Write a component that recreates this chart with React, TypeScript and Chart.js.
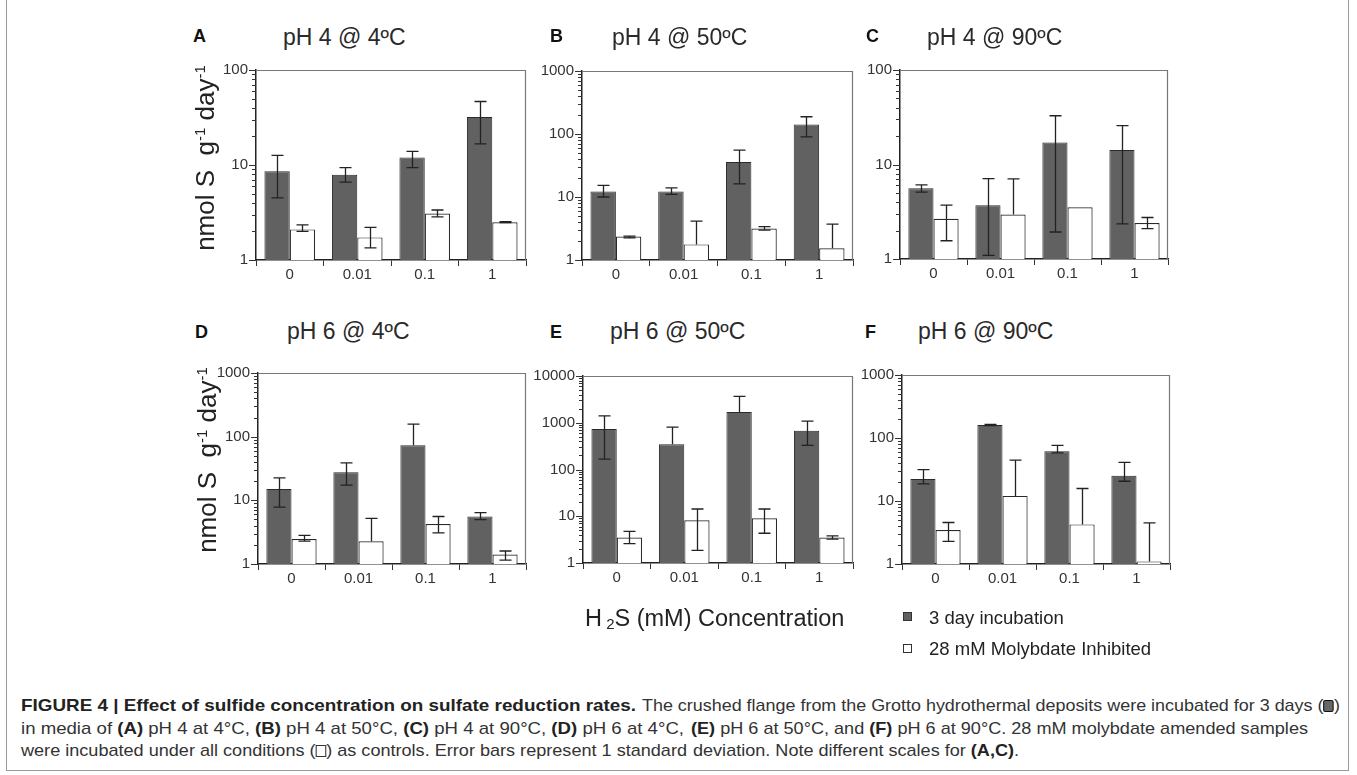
import React, { useEffect, useLayoutEffect, useRef } from 'react';
import { Chart, registerables } from 'chart.js';

Chart.register(...registerables);

// ---------- data ----------
const categories = ['0', '0.01', '0.1', '1'];
const seriesLabels = ['3 day incubation', '28 mM Molybdate Inhibited'];

// A: pH 4 @ 4ºC
const incubationA = [8.6, 7.9, 12.0, 32.0];
const incubationAHigh = [12.6, 9.4, 13.9, 46.6];
const incubationALow = [4.5, 6.6, 9.4, 16.7];
const molybdateA = [2.1, 1.73, 3.08, 2.5];
const molybdateAHigh = [2.34, 2.2, 3.36, 2.53];
const molybdateALow = [2.0, 1.34, 2.85, 2.47];

// B: pH 4 @ 50ºC
const incubationB = [12.2, 12.2, 35.8, 142];
const incubationBHigh = [15.3, 14.0, 55.6, 188];
const incubationBLow = [10.0, 11.0, 16.2, 90];
const molybdateB = [2.35, 1.77, 3.16, 1.53];
const molybdateBHigh = [2.4, 4.15, 3.39, 3.7];
const molybdateBLow = [2.25, null, 2.97, null];

// C: pH 4 @ 90ºC
const incubationC = [5.6, 3.7, 17.1, 14.2];
const incubationCHigh = [6.1, 7.1, 32.8, 25.8];
const incubationCLow = [5.1, 1.09, 1.93, 2.35];
const molybdateC = [2.67, 2.96, 3.52, 2.4];
const molybdateCHigh = [3.72, 7.06, null, 2.75];
const molybdateCLow = [1.56, null, null, 2.1];

// D: pH 6 @ 4ºC
const incubationD = [15.0, 27.6, 73.3, 5.57];
const incubationDHigh = [22.6, 38.8, 157.5, 6.42];
const incubationDLow = [7.84, 17.3, null, 4.96];
const molybdateD = [2.47, 2.28, 4.25, 1.41];
const molybdateDHigh = [2.82, 5.19, 5.57, 1.6];
const molybdateDLow = [2.28, null, 3.09, 1.15];

// E: pH 6 @ 50ºC
const incubationE = [733, 347, 1706, 671];
const incubationEHigh = [1408, 807, 3664, 1084];
const incubationELow = [166, null, null, 327];
const molybdateE = [3.52, 8.19, 9.02, 3.5];
const molybdateEHigh = [4.77, 14.3, 14.3, 3.8];
const molybdateELow = [2.6, 1.86, 4.33, 3.25];

// F: pH 6 @ 90ºC
const incubationF = [22.3, 161, 61.8, 25.2];
const incubationFHigh = [31.5, 165, 76.5, 40.9];
const incubationFLow = [18.7, 158, 58.2, 20.6];
const molybdateF = [3.47, 12.05, 4.25, 1.1];
const molybdateFHigh = [4.56, 44.4, 15.8, 4.5];
const molybdateFLow = [2.29, null, null, null];

const yMaxes = [100, 1000, 100, 1000, 10000, 1000];
const panelLetters = ['A', 'B', 'C', 'D', 'E', 'F'];
const panelTitles = ['pH 4 @ 4ºC', 'pH 4 @ 50ºC', 'pH 4 @ 90ºC', 'pH 6 @ 4ºC', 'pH 6 @ 50ºC', 'pH 6 @ 90ºC'];

// ---------- layout / style ----------
const FONT = '"Liberation Sans", Arial, Helvetica, sans-serif';
const YW = 52;
const PT = 12;
const PR = 6;
const XH = 32;

const plotRects = [
  { x: 256, y: 65, w: 270, h: 195 },
  { x: 582, y: 66, w: 271, h: 194 },
  { x: 900, y: 65, w: 268, h: 194 },
  { x: 258, y: 368, w: 268, h: 196 },
  { x: 583, y: 371, w: 270, h: 192 },
  { x: 902, y: 370, w: 268, h: 194 },
];
const letterPos = [
  { x: 193, y: 27 }, { x: 550, y: 27 }, { x: 866, y: 27 },
  { x: 195, y: 323 }, { x: 550, y: 323 }, { x: 865, y: 323 },
];
const titlePos = [
  { x: 283, y: 26 }, { x: 612, y: 26 }, { x: 927, y: 26 },
  { x: 287, y: 320 }, { x: 610, y: 320 }, { x: 918, y: 320 },
];

const panelData = [
  [incubationA, incubationAHigh, incubationALow, molybdateA, molybdateAHigh, molybdateALow],
  [incubationB, incubationBHigh, incubationBLow, molybdateB, molybdateBHigh, molybdateBLow],
  [incubationC, incubationCHigh, incubationCLow, molybdateC, molybdateCHigh, molybdateCLow],
  [incubationD, incubationDHigh, incubationDLow, molybdateD, molybdateDHigh, molybdateDLow],
  [incubationE, incubationEHigh, incubationELow, molybdateE, molybdateEHigh, molybdateELow],
  [incubationF, incubationFHigh, incubationFLow, molybdateF, molybdateFHigh, molybdateFLow],
];

function isPow10(v: number) {
  const l = Math.log10(v);
  return Math.abs(l - Math.round(l)) < 1e-9;
}
function isIntMantissa(v: number) {
  const e = Math.floor(Math.log10(v) + 1e-9);
  const m = v / Math.pow(10, e);
  return Math.abs(m - Math.round(m)) < 1e-6;
}

const errorBarPlugin = {
  id: 'errorBars',
  afterDatasetsDraw(chart: any) {
    const ctx = chart.ctx;
    const ys = chart.scales.y;
    chart.data.datasets.forEach((ds: any, i: number) => {
      const meta = chart.getDatasetMeta(i);
      meta.data.forEach((bar: any, j: number) => {
        const hi = ds.errHigh[j];
        const lo = ds.errLow[j];
        if (hi == null) return;
        const x = Math.round(bar.x) + 0.5;
        const yH = ys.getPixelForValue(hi);
        const yL = lo != null ? ys.getPixelForValue(lo) : bar.y;
        ctx.save();
        ctx.strokeStyle = '#222';
        ctx.lineWidth = 1.3;
        ctx.beginPath();
        ctx.moveTo(x, yH);
        ctx.lineTo(x, yL);
        ctx.moveTo(x - 6, yH);
        ctx.lineTo(x + 6, yH);
        if (lo != null) {
          ctx.moveTo(x - 6, yL);
          ctx.lineTo(x + 6, yL);
        }
        ctx.stroke();
        ctx.restore();
      });
    });
  },
};

const framePlugin = {
  id: 'frame',
  afterDraw(chart: any) {
    const { ctx, chartArea } = chart;
    const ys = chart.scales.y;
    ctx.save();
    ctx.strokeStyle = '#777';
    ctx.lineWidth = 1.2;
    ctx.beginPath();
    ctx.moveTo(chartArea.left, chartArea.top + 0.5);
    ctx.lineTo(chartArea.right - 0.5, chartArea.top + 0.5);
    ctx.lineTo(chartArea.right - 0.5, chartArea.bottom);
    ctx.stroke();
    ctx.strokeStyle = '#333';
    ctx.lineWidth = 1;
    ctx.beginPath();
    ys.ticks.forEach((t: any) => {
      const y = Math.round(ys.getPixelForValue(t.value)) + 0.5;
      const len = isPow10(t.value) ? 7 : 4;
      ctx.moveTo(chartArea.left - len, y);
      ctx.lineTo(chartArea.left, y);
    });
    ctx.stroke();
    ctx.restore();
  },
};

function Panel({ index }: { index: number }) {
  const ref = useRef<HTMLCanvasElement>(null);
  const r = plotRects[index];
  const W = r.w + YW + PR;
  const H = r.h + PT + XH;
  useEffect(() => {
    const [inc, incHi, incLo, mol, molHi, molLo] = panelData[index];
    const chart = new Chart(ref.current as HTMLCanvasElement, {
      type: 'bar',
      data: {
        labels: categories,
        datasets: [
          {
            label: seriesLabels[0],
            data: inc,
            backgroundColor: '#616161',
            borderColor: '#2a2a2a',
            borderWidth: 1,
            categoryPercentage: 0.75,
            barPercentage: 1,
            errHigh: incHi,
            errLow: incLo,
          } as any,
          {
            label: seriesLabels[1],
            data: mol,
            backgroundColor: '#ffffff',
            borderColor: '#2a2a2a',
            borderWidth: 1.2,
            categoryPercentage: 0.75,
            barPercentage: 1,
            errHigh: molHi,
            errLow: molLo,
          } as any,
        ],
      },
      options: {
        responsive: false,
        animation: false,
        layout: { padding: { top: PT, right: PR, left: 0, bottom: 0 } },
        plugins: {
          legend: { display: false },
          tooltip: { enabled: false },
          title: { display: false },
        },
        scales: {
          x: {
            type: 'category',
            grid: { display: true, drawOnChartArea: false, drawTicks: true, tickLength: 6, color: '#333', offset: true },
            border: { display: true, color: '#222', width: 1.5 },
            ticks: { color: '#333', font: { family: FONT, size: 15 }, padding: 0, maxRotation: 0, autoSkip: false },
            afterFit: (s: any) => { s.height = XH; },
          },
          y: {
            type: 'logarithmic',
            min: 1,
            max: yMaxes[index],
            grid: { display: true, drawOnChartArea: false, drawTicks: false },
            border: { display: true, color: '#222', width: 1.5 },
            ticks: {
              autoSkip: false,
              color: '#333',
              font: { family: FONT, size: 15 },
              padding: 8,
              callback: (v: any) => (isPow10(Number(v)) ? String(Math.round(Number(v))) : ''),
            },
            afterBuildTicks: (s: any) => { s.ticks = s.ticks.filter((t: any) => isIntMantissa(t.value)); },
            afterFit: (s: any) => { s.width = YW; },
          },
        },
      } as any,
      plugins: [errorBarPlugin, framePlugin],
    });
    return () => chart.destroy();
  }, [index]);
  return (
    <canvas
      ref={ref}
      width={W}
      height={H}
      style={{ position: 'absolute', left: r.x - YW, top: r.y - PT, width: W, height: H }}
    />
  );
}

// a run of text stretched/squeezed horizontally to span [left, left+width]
function FitText({ left, top, width, children, style }: any) {
  const ref = useRef<HTMLDivElement>(null);
  useLayoutEffect(() => {
    const el = ref.current;
    if (!el) return;
    el.style.transform = 'none';
    const w = el.getBoundingClientRect().width;
    if (w > 0) el.style.transform = `scaleX(${width / w})`;
  });
  return (
    <div
      ref={ref}
      style={{ position: 'absolute', left, top, whiteSpace: 'nowrap', transformOrigin: '0 0', lineHeight: 1, ...style }}
    >
      {children}
    </div>
  );
}

const capFont = { fontFamily: FONT, fontSize: 17, color: '#333' };
const B = ({ children }: any) => <b style={{ color: '#222' }}>{children}</b>;

export default function App() {
  return (
    <div
      style={{
        position: 'absolute', left: 0, top: 0, width: 1357, height: 775,
        background: '#fff', fontFamily: FONT, overflow: 'hidden',
      }}
    >
      {/* outer frame */}
      <div style={{ position: 'absolute', left: 6, top: -4, width: 1343, height: 775, border: '1.5px solid #9a9a9a', boxSizing: 'border-box' }} />

      {plotRects.map((_, i) => <Panel key={i} index={i} />)}

      {panelLetters.map((l, i) => (
        <div key={'l' + i} style={{ position: 'absolute', left: letterPos[i].x, top: letterPos[i].y, fontSize: 18, fontWeight: 'bold', lineHeight: 1, color: '#111' }}>{l}</div>
      ))}
      {panelTitles.map((t, i) => (
        <div key={'t' + i} style={{ position: 'absolute', left: titlePos[i].x, top: titlePos[i].y, fontSize: 23, lineHeight: 1, color: '#2a2a2a', whiteSpace: 'nowrap' }}>{t}</div>
      ))}

      {/* y-axis titles */}
      {[{ x: 205, y: 158 }, { x: 207, y: 460 }].map((p, i) => (
        <div key={'y' + i} style={{ position: 'absolute', left: p.x, top: p.y, transform: 'translate(-50%, -50%) rotate(-90deg)', fontSize: 26, lineHeight: 1, color: '#222', whiteSpace: 'nowrap' }}>
          nmol S&nbsp;&nbsp;g<sup style={{ fontSize: 15 }}>-1</sup> day<sup style={{ fontSize: 15 }}>-1</sup>
        </div>
      ))}

      {/* x-axis title */}
      <div style={{ position: 'absolute', left: 585, top: 607, fontSize: 23.5, lineHeight: 1, color: '#222', whiteSpace: 'nowrap' }}>
        H<sub style={{ fontSize: 15, verticalAlign: -3 }}>&nbsp;2</sub>S (mM) Concentration
      </div>

      {/* legend */}
      <div style={{ position: 'absolute', left: 903, top: 612, width: 9, height: 9, background: '#616161', border: '1px solid #333', boxSizing: 'border-box' }} />
      <div style={{ position: 'absolute', left: 929, top: 609, fontSize: 18.5, lineHeight: 1, color: '#222', whiteSpace: 'nowrap' }}>{seriesLabels[0]}</div>
      <div style={{ position: 'absolute', left: 903, top: 644, width: 9, height: 9, background: '#fff', border: '1px solid #333', boxSizing: 'border-box' }} />
      <div style={{ position: 'absolute', left: 929, top: 640, fontSize: 18.5, lineHeight: 1, color: '#222', whiteSpace: 'nowrap' }}>{seriesLabels[1]}</div>

      {/* caption */}
      <FitText left={21} top={697} width={615} style={capFont}>
        <B>FIGURE 4 | Effect of sulfide concentration on sulfate reduction rates.</B>
      </FitText>
      <FitText left={642} top={697} width={698} style={capFont}>
        The crushed flange from the Grotto hydrothermal deposits were incubated for 3 days (
        <span style={{ display: 'inline-block', width: 10, height: 12, background: '#666', border: '1.5px solid #111', borderRadius: 2, boxSizing: 'border-box', verticalAlign: -1 }} />)
      </FitText>

      <FitText left={21} top={720} width={663} style={capFont}>
        in media of <B>(A)</B> pH 4 at 4°C, <B>(B)</B> pH 4 at 50°C, <B>(C)</B> pH 4 at 90°C, <B>(D)</B> pH 6 at 4°C,
      </FitText>
      <FitText left={691} top={720} width={617} style={capFont}>
        <B>(E)</B> pH 6 at 50°C, and <B>(F)</B> pH 6 at 90°C. 28 mM molybdate amended samples
      </FitText>

      <FitText left={21} top={742} width={666} style={capFont}>
        were incubated under all conditions (
        <span style={{ display: 'inline-block', width: 10, height: 12, background: '#fff', border: '1px solid #333', boxSizing: 'border-box', verticalAlign: -1 }} />) as controls. Error bars represent 1 standard
      </FitText>
      <FitText left={693} top={742} width={326} style={capFont}>
        deviation. Note different scales for <B>(A,C)</B>.
      </FitText>
    </div>
  );
}
